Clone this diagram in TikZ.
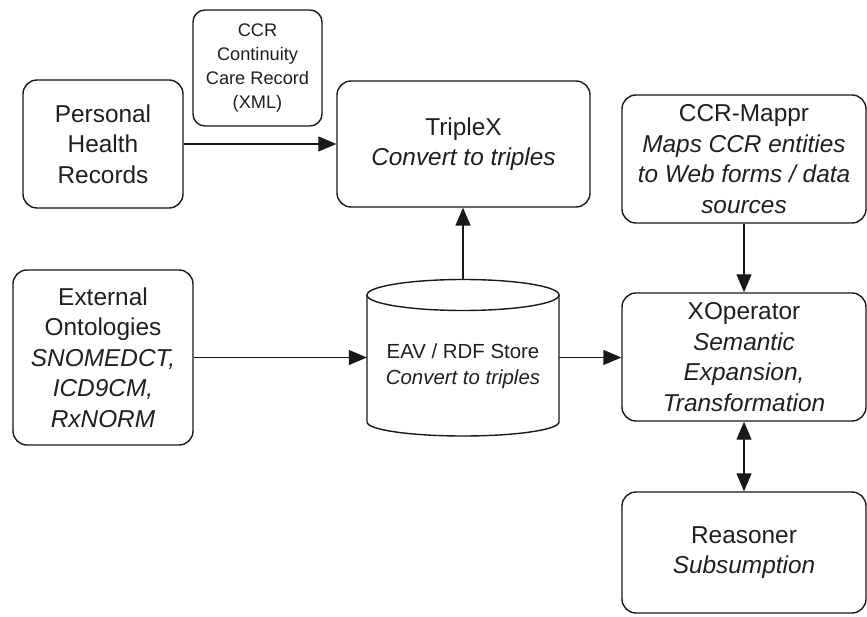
\documentclass[tikz,border=0pt]{standalone}
\usepackage{fontspec}
\setmainfont{Liberation Sans}
\usetikzlibrary{arrows.meta}

\tikzset{
  box/.style={draw=black!90, line width=1.4pt, rounded corners=14pt, align=center,
    text=black!88, inner sep=0pt, font=\fontsize{24.4}{30.5}\selectfont},
  smallbox/.style={box, rounded corners=12pt, font=\fontsize{18.2}{23.8}\selectfont},
  link/.style={draw=black!90, line width=1.4pt, -{Triangle[length=18pt,width=15pt]}},
  dlink/.style={link, {Triangle[length=18pt,width=15pt]}-{Triangle[length=18pt,width=15pt]}}
}

\begin{document}
\begin{tikzpicture}[x=1pt, y=-1pt]
  \useasboundingbox (0,0) rectangle (867,617);

  % left column
  \node[box, minimum width=160pt, minimum height=128pt] (phr) at (103,144)
    {Personal\\Health\\Records};
  \node[smallbox, minimum width=129pt, minimum height=116pt] (ccr) at (257.5,68)
    {CCR\\Continuity\\Care Record\\(XML)};
  \node[box, minimum width=180pt, minimum height=175pt] (ext) at (103,357.5)
    {External\\Ontologies\\\textit{SNOMEDCT,}\\\textit{ICD9CM,}\\\textit{RxNORM}};

  % middle column
  \node[box, minimum width=253pt, minimum height=126pt] (triplex) at (463.5,144)
    {TripleX\\\textit{Convert to triples}};

  % the store is drawn as a cylinder around an invisible node;
  % the strut on the first line sets the text a little below the centre
  \node[align=center, inner sep=0pt, minimum width=192pt, minimum height=157pt,
        text=black!88, font=\fontsize{20.4}{26}\selectfont] (store) at (463,357.5)
    {\rule{0pt}{33pt}EAV / RDF Store\\\textit{Convert to triples}};
  \draw[black!90, line width=1.4pt]
    (367,295) -- (367,422) arc[start angle=180, end angle=360, x radius=96, y radius=-14]
    -- (559,295);
  \draw[black!90, line width=1.4pt] (463,295) ellipse[x radius=96, y radius=15.5];

  % right column
  \node[box, minimum width=244pt, minimum height=128pt] (mappr) at (744,159)
    {CCR-Mappr\\\textit{Maps CCR entities}\\\textit{to Web forms / data}\\\textit{sources}};
  \node[box, minimum width=244pt, minimum height=128pt] (xop) at (744,357)
    {XOperator\\\textit{Semantic}\\\textit{Expansion,}\\\textit{Transformation}};
  \node[box, minimum width=244pt, minimum height=121pt] (reas) at (744,552.5)
    {Reasoner\\\textit{Subsumption}};

  % connectors
  \draw[link] (phr.east |- triplex.west) -- (triplex.west);
  \draw[link] (ext.east |- store.west) -- (store.west);
  \draw[link] (store.north) -- (store.north |- triplex.south);
  \draw[link] (store.east) -- (store.east -| xop.west);
  \draw[link] (mappr.south) -- (xop.north);
  \draw[dlink] (xop.south) -- (reas.north);
\end{tikzpicture}
\end{document}
